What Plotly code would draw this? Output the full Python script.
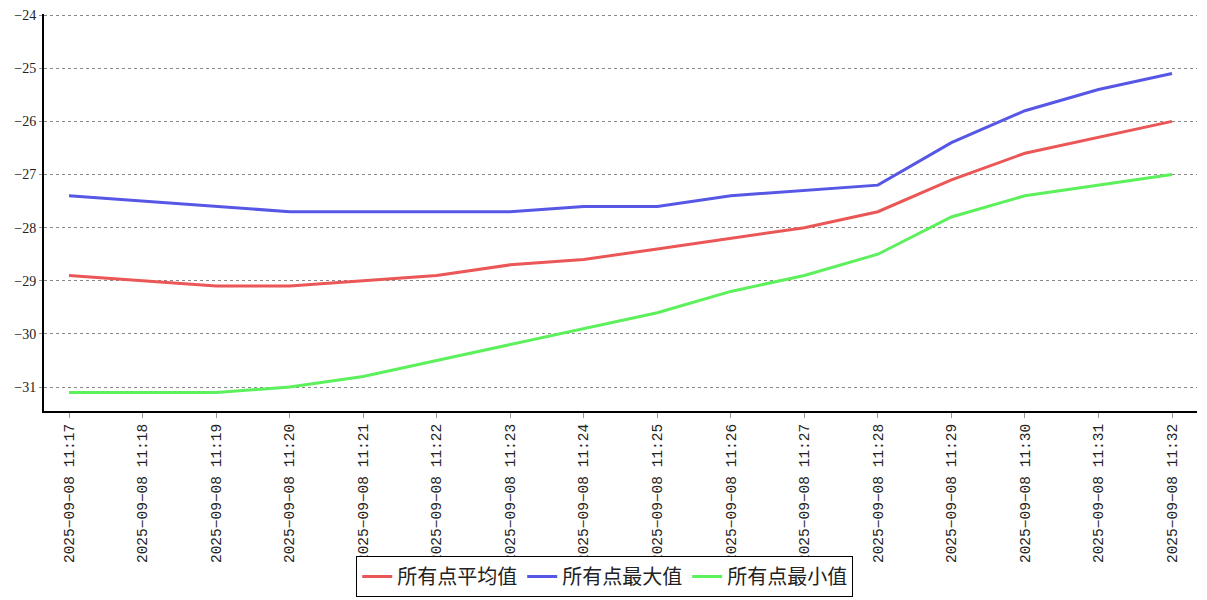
import plotly.graph_objects as go

times = ["2025-09-08 11:%d" % m for m in range(17, 33)]
tick_labels = ["2025−09−08 11:%d" % m for m in range(17, 33)]
avg_vals = [-28.9, -29.0, -29.1, -29.1, -29.0, -28.9, -28.7, -28.6, -28.4, -28.2, -28.0, -27.7, -27.1, -26.6, -26.3, -26.0]
max_vals = [-27.4, -27.5, -27.6, -27.7, -27.7, -27.7, -27.7, -27.6, -27.6, -27.4, -27.3, -27.2, -26.4, -25.8, -25.4, -25.1]
min_vals = [-31.1, -31.1, -31.1, -31.0, -30.8, -30.5, -30.2, -29.9, -29.6, -29.2, -28.9, -28.5, -27.8, -27.4, -27.2, -27.0]
names = ["所有点平均值", "所有点最大值", "所有点最小值"]
colors = ["#eb5757", "#5757e6", "#5cf05c"]
y_ticks = [-24, -25, -26, -27, -28, -29, -30, -31]

fig = go.Figure()
for vals, name, col in zip([avg_vals, max_vals, min_vals], names, colors):
    fig.add_trace(go.Scatter(x=list(range(len(times))), y=vals, name=name, mode="lines",
                             line=dict(color=col, width=3)))

fig.update_layout(
    width=1207, height=600,
    margin=dict(l=44, r=10, t=14, b=189, autoexpand=False),
    plot_bgcolor="white", paper_bgcolor="white",
    showlegend=True,
    legend=dict(orientation="h", xref="container", yref="container", x=0.501, xanchor="center",
                y=0.005, yanchor="bottom", bordercolor="black", borderwidth=1,
                font=dict(family="Noto Sans CJK SC", size=20, color="#222"),
                itemwidth=30, tracegroupgap=0),
    xaxis=dict(range=[-0.34, 15.34], tickmode="array", tickvals=list(range(len(times))),
               ticktext=tick_labels, tickangle=-90, showgrid=False, zeroline=False,
               showline=True, linecolor="black", linewidth=2, automargin=False,
               ticks="outside", ticklen=5, tickcolor="#999", tickwidth=1,
               tickfont=dict(family="Liberation Mono", size=14.5, color="#222")),
    yaxis=dict(range=[-31.45, -23.98], tickmode="array", tickvals=y_ticks,
               showgrid=True, gridcolor="#888", griddash="dot", gridwidth=1, zeroline=False,
               showline=True, linecolor="black", linewidth=2, automargin=False,
               ticks="outside", ticklen=3, tickcolor="#999", tickwidth=1,
               tickfont=dict(family="Liberation Serif", size=14, color="#222")),
)

fig.write_html("out.html", config={"displayModeBar": False},
               post_script="document.body.style.margin='0';document.body.style.overflow='hidden';")
